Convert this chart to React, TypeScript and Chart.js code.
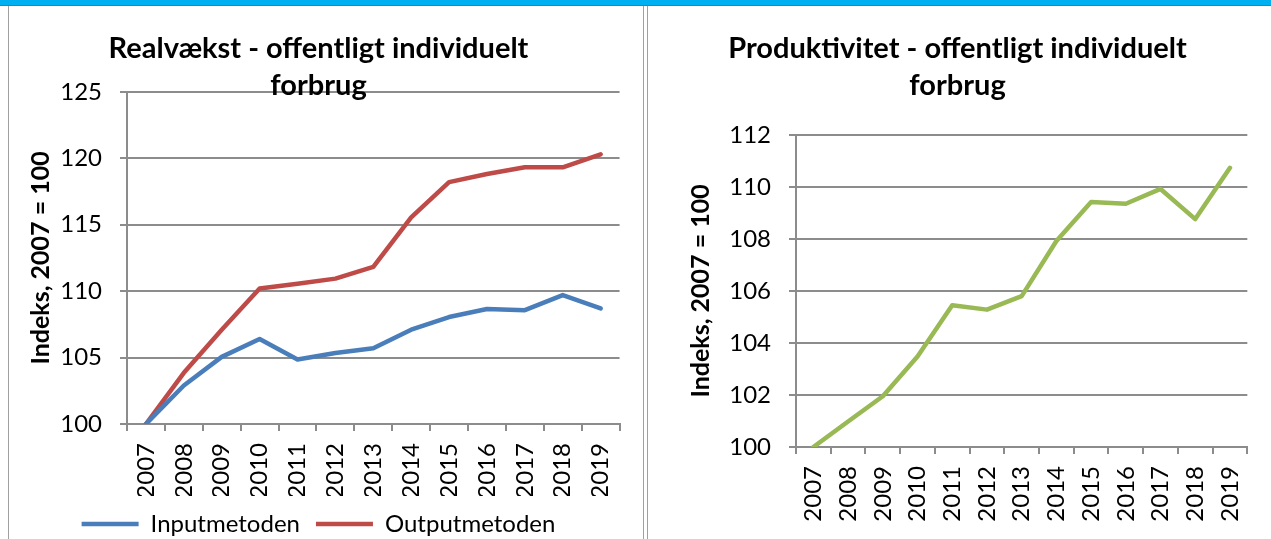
import React, { useEffect, useRef } from 'react';
import Chart from 'chart.js/auto';

const years = ['2007', '2008', '2009', '2010', '2011', '2012', '2013', '2014', '2015', '2016', '2017', '2018', '2019'];
const inputValues = [100, 102.9, 105.05, 106.4, 104.85, 105.35, 105.7, 107.1, 108.05, 108.65, 108.57, 109.7, 108.7];
const outputValues = [100, 103.85, 107.1, 110.2, 110.56, 110.94, 111.82, 115.55, 118.2, 118.82, 119.32, 119.32, 120.3];
const productivityValues = [100, 100.98, 101.95, 103.48, 105.45, 105.28, 105.8, 107.92, 109.42, 109.35, 109.92, 108.76, 110.73];

const leftTitle = ['Realvækst - offentligt individuelt', 'forbrug'];
const rightTitle = ['Produktivitet - offentligt individuelt', 'forbrug'];
const yAxisTitle = 'Indeks, 2007 = 100';
const inputLabel = 'Inputmetoden';
const outputLabel = 'Outputmetoden';
const productivityLabel = 'Produktivitet';

const leftMin = 100, leftMax = 125, leftStep = 5;
const rightMin = 100, rightMax = 112, rightStep = 2;

const FONT = "Lato, 'Open Sans', sans-serif";
const GRID = '#8c8c8c';
const BLUE = '#4A7EBB';
const RED = '#BE4B48';
const GREEN = '#98B954';

type Opts = {
  yWidth: number;
  xHeight: number;
  yTitlePad: number;
  titlePadBottom: number;
  min: number;
  max: number;
  step: number;
  legend: boolean;
  padding: { left: number; right: number; top: number; bottom: number };
  title: string[];
};

function makeOptions(o: Opts): any {
  return {
    responsive: true,
    maintainAspectRatio: false,
    animation: false,
    layout: { padding: o.padding },
    plugins: {
      title: {
        display: true,
        text: o.title,
        color: '#000',
        font: { family: FONT, size: 29, weight: 'bold', lineHeight: 1.29 },
        padding: { top: 22, bottom: o.titlePadBottom },
      },
      legend: {
        display: o.legend,
        position: 'bottom',
        labels: {
          usePointStyle: true,
          pointStyle: 'line',
          pointStyleWidth: 57,
          color: '#000',
          font: { family: FONT, size: 24 },
          padding: 16,
        },
      },
      tooltip: { enabled: false },
    },
    scales: {
      x: {
        type: 'category',
        offset: true,
        grid: {
          display: true,
          offset: true,
          drawOnChartArea: false,
          drawTicks: true,
          tickLength: 7,
          color: GRID,
          lineWidth: 2,
        },
        border: { display: true, color: GRID, width: 2 },
        ticks: {
          color: '#000',
          font: { family: FONT, size: 24 },
          minRotation: 90,
          maxRotation: 90,
          padding: 12,
          autoSkip: false,
        },
        afterFit: (s: any) => {
          s.height = o.xHeight;
        },
      },
      y: {
        min: o.min,
        max: o.max,
        ticks: {
          stepSize: o.step,
          color: '#000',
          font: { family: FONT, size: 24 },
          padding: 18,
        },
        grid: { color: GRID, lineWidth: 2, tickLength: 7, drawTicks: true },
        border: { display: true, color: GRID, width: 2 },
        title: {
          display: true,
          text: yAxisTitle,
          color: '#000',
          font: { family: FONT, size: 25, weight: 'bold' },
          padding: { top: o.yTitlePad, bottom: 0 },
        },
        afterFit: (s: any) => {
          s.width = o.yWidth;
        },
      },
    },
  };
}

function lineDataset(label: string, data: number[], color: string) {
  return {
    label,
    data,
    borderColor: color,
    backgroundColor: color,
    borderWidth: 4.5,
    pointRadius: 0,
    pointHoverRadius: 0,
    tension: 0,
    borderCapStyle: 'round',
    borderJoinStyle: 'round',
    fill: false,
  };
}

function ChartBox(props: { config: any; style: React.CSSProperties }) {
  const ref = useRef<HTMLCanvasElement | null>(null);
  useEffect(() => {
    if (!ref.current) return;
    const chart = new Chart(ref.current, props.config);
    return () => chart.destroy();
  }, []);
  return (
    <div style={{ position: 'absolute', ...props.style }}>
      <canvas ref={ref} />
    </div>
  );
}

export default function App() {
  const leftConfig = {
    type: 'line',
    data: {
      labels: years,
      datasets: [lineDataset(inputLabel, inputValues, BLUE), lineDataset(outputLabel, outputValues, RED)],
    },
    options: makeOptions({
      yWidth: 117,
      xHeight: 72,
      yTitlePad: 16,
      titlePadBottom: -13,
      min: leftMin,
      max: leftMax,
      step: leftStep,
      legend: true,
      padding: { left: 0, right: 15, top: 0, bottom: -7 },
      title: leftTitle,
    }),
  };
  const rightConfig = {
    type: 'line',
    data: {
      labels: years,
      datasets: [lineDataset(productivityLabel, productivityValues, GREEN)],
    },
    options: makeOptions({
      yWidth: 146,
      xHeight: 92,
      yTitlePad: 36,
      titlePadBottom: 30,
      min: rightMin,
      max: rightMax,
      step: rightStep,
      legend: false,
      padding: { left: 0, right: 6, top: 0, bottom: 0 },
      title: rightTitle,
    }),
  };
  return (
    <div
      style={{
        position: 'fixed',
        left: 0,
        top: 0,
        width: 1271,
        height: 539,
        background: '#fff',
        overflow: 'hidden',
      }}
    >
      <div style={{ position: 'absolute', left: 0, top: 0, width: 1271, height: 5, background: '#00B0F0' }} />
      <div style={{ position: 'absolute', left: 0, top: 5, width: 1271, height: 1, background: '#6f6f6f' }} />
      <div style={{ position: 'absolute', left: 8, top: 6, width: 1, height: 533, background: '#a0a0a0' }} />
      <div style={{ position: 'absolute', left: 643, top: 6, width: 1, height: 533, background: '#a0a0a0' }} />
      <div style={{ position: 'absolute', left: 647, top: 6, width: 1, height: 533, background: '#a0a0a0' }} />
      <ChartBox config={leftConfig} style={{ left: 10, top: 8, width: 632, height: 531 }} />
      <ChartBox config={rightConfig} style={{ left: 650, top: 8, width: 621, height: 531 }} />
    </div>
  );
}
